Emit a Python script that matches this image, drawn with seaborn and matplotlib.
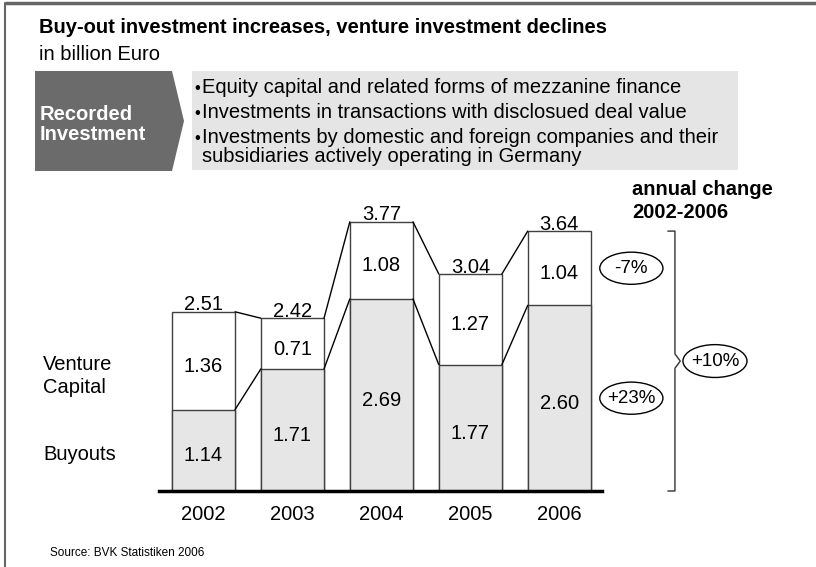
import matplotlib
matplotlib.use("Agg")
import matplotlib.pyplot as plt
import pandas as pd
import seaborn as sns
from matplotlib.patches import Ellipse, Polygon, Rectangle

YEARS = ["2002", "2003", "2004", "2005", "2006"]
BUYOUTS = [1.14, 1.71, 2.69, 1.77, 2.60]
VENTURE = [1.36, 0.71, 1.08, 1.27, 1.04]
TOTALS = [2.51, 2.42, 3.77, 3.04, 3.64]
SEGMENT_CHANGES = ["-7%", "+23%"]  # venture, buyouts
TOTAL_CHANGE = "+10%"

TITLE = "Buy-out investment increases, venture investment declines"
SUBTITLE = "in billion Euro"
BULLETS = [
    "Equity capital and related forms of mezzanine finance",
    "Investments in transactions with disclosued deal value",
    "Investments by domestic and foreign companies and their",
]
BULLET_CONT = "subsidiaries actively operating in Germany"
SOURCE = "Source: BVK Statistiken 2006"

W, H = 816, 567
BAR_W = 0.71
EDGE = "#404040"
GRAY = "#e6e6e6"


def main() -> None:
    sns.set_theme(style="white")
    plt.rcParams["font.family"] = ["Liberation Sans", "DejaVu Sans"]
    plt.rcParams["text.color"] = "black"
    plt.rcParams["xtick.color"] = "black"

    fig = plt.figure(figsize=(W / 100, H / 100), dpi=100)

    # overlay in pixel coordinates for header / frame / side labels
    ov = fig.add_axes([0, 0, 1, 1])
    ov.set_xlim(0, W)
    ov.set_ylim(H, 0)
    ov.axis("off")
    ov.patch.set_alpha(0)

    ov.plot([5, W], [3, 3], color="#666666", lw=2.5, solid_capstyle="butt")
    ov.plot([5, 5], [3, H], color="#666666", lw=1.5)

    ov.text(39, 33, TITLE, fontsize=14.5, fontweight="bold", va="baseline")
    ov.text(39, 60, SUBTITLE, fontsize=14.5, va="baseline")

    ov.add_patch(Polygon([(35, 71), (172, 71), (184, 121), (172, 171), (35, 171)],
                         closed=True, color="#6b6b6b", lw=0))
    ov.add_patch(Rectangle((192, 71), 546, 99, color="#e5e5e5", lw=0))
    ov.text(40, 120, "Recorded", fontsize=14.5, fontweight="bold", color="white", va="baseline")
    ov.text(40, 140, "Investment", fontsize=14.5, fontweight="bold", color="white", va="baseline")
    for txt, yb in zip(BULLETS, [93, 118, 143]):
        ov.text(194, yb, "\u2022", fontsize=12, va="baseline")
        ov.text(202, yb, txt, fontsize=14.5, va="baseline")
    ov.text(202, 162, BULLET_CONT, fontsize=14.5, va="baseline")

    ov.text(43, 370, "Venture", fontsize=14.5, va="baseline")
    ov.text(43, 393, "Capital", fontsize=14.5, va="baseline")
    ov.text(43, 460, "Buyouts", fontsize=14.5, va="baseline")
    ov.text(632, 195, "annual change", fontsize=14.5, fontweight="bold", va="baseline")
    ov.text(632, 218, "2002-2006", fontsize=14.5, fontweight="bold", va="baseline")
    ov.text(50, 556, SOURCE, fontsize=8.5, va="baseline")

    # chart axes: 89 px per category, 71.4 px per billion
    ax = fig.add_axes([159 / W, (H - 491) / H, 443 / W, 4 * 71.4 / H])
    ax.patch.set_alpha(0)
    df = pd.DataFrame({"year": YEARS, "total": TOTALS, "buyouts": BUYOUTS, "venture": VENTURE})

    sns.barplot(data=df, x="year", y="total", color="white", saturation=1, width=BAR_W,
                edgecolor=EDGE, linewidth=1, errorbar=None, ax=ax)
    sns.barplot(data=df, x="year", y="buyouts", color=GRAY, saturation=1, width=BAR_W,
                edgecolor=EDGE, linewidth=1, errorbar=None, ax=ax)

    # connector lines between bars
    for i in range(len(YEARS) - 1):
        for col in ["total", "buyouts"]:
            ax.plot([i + BAR_W / 2, i + 1 - BAR_W / 2], [df[col][i], df[col][i + 1]],
                    color="black", lw=1)

    for i, row in df.iterrows():
        ax.annotate(f"{row.total:.2f}", (i, row.total), xytext=(0, 1), textcoords="offset points",
                    ha="center", va="baseline", fontsize=14.5)
        ax.annotate(f"{row.venture:.2f}", (i, row.buyouts + row.venture / 2), xytext=(0, -4),
                    textcoords="offset points", ha="center", va="center", fontsize=14.5)
        ax.annotate(f"{row.buyouts:.2f}", (i, row.buyouts / 2), xytext=(0, -4),
                    textcoords="offset points", ha="center", va="center", fontsize=14.5)

    # change bubbles next to the last bar
    last = df.iloc[-1]
    bub_x = 4.81
    for txt, yc in zip(SEGMENT_CHANGES, [last.buyouts + last.venture / 2, last.buyouts / 2]):
        ax.add_patch(Ellipse((bub_x, yc), 0.71, 0.45, fill=False, edgecolor="black", lw=1, clip_on=False))
        ax.text(bub_x, yc, txt, ha="center", va="center", fontsize=13.5, clip_on=False)

    top = last.total
    mid = top / 2
    bx, hx, tx = 5.30, 5.22, 5.36
    ax.plot([hx, bx, bx, tx, bx, bx, hx],
            [top, top, mid + 0.1, mid, mid - 0.1, 0, 0],
            color="#333333", lw=1, clip_on=False)
    ax.add_patch(Ellipse((5.75, mid), 0.72, 0.46, fill=False, edgecolor="black", lw=1, clip_on=False))
    ax.text(5.75, mid, TOTAL_CHANGE, ha="center", va="center", fontsize=13.5, clip_on=False)

    ax.set_xlim(-0.5, 4.48)
    ax.set_ylim(0, 4)
    ax.set_xlabel("")
    ax.set_ylabel("")
    ax.set_yticks([])
    ax.tick_params(axis="x", length=0, pad=10, labelsize=14.5)
    for s in ["top", "left", "right"]:
        ax.spines[s].set_visible(False)
    ax.spines["bottom"].set_linewidth(2.5)
    ax.spines["bottom"].set_color("black")

    fig.savefig("out.png", dpi=100)
    plt.close(fig)


if __name__ == "__main__":
    main()
